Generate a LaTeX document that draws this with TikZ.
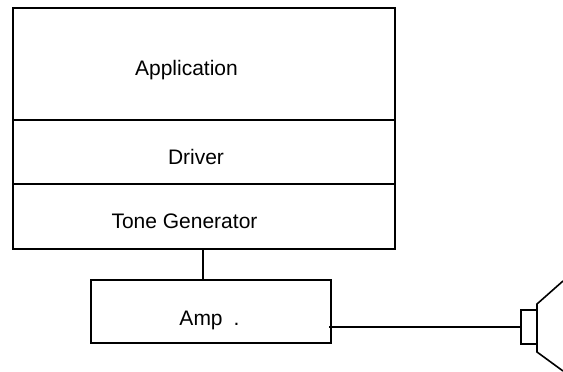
\documentclass[tikz,border=0pt]{standalone}
\usepackage{fontspec}
\setmainfont{Liberation Sans}
\usetikzlibrary{positioning}

\tikzset{
  layer/.style={draw, line width=1.6pt, minimum width=382pt, inner sep=0pt, outer sep=0pt},
  txt/.style={inner sep=0pt, font=\fontsize{21}{24}\selectfont},
  wire/.style={line width=1.6pt}
}

\begin{document}
\begin{tikzpicture}[x=1pt,y=-1pt]
  \useasboundingbox (0,0) rectangle (563,372);

  \node [layer, minimum height=112pt] (app) at (204,64) {};
  \node [layer, minimum height=64pt, below=0pt of app] (drv) {};
  \node [layer, minimum height=65pt, below=0pt of drv] (tone) {};
  \node [layer, minimum width=240pt, minimum height=63pt] (amp) at (211,311.5) {};
  \node [layer, minimum width=16pt, minimum height=34pt] (spk) at (529,327) {};

  \node [txt] (appt) at (186.5,70) {Application};
  \node [txt] (drvt) at (196,157) {Driver};
  \node [txt] (tonet) at (184.5,221) {Tone Generator};
  \node [txt] (ampt) at (209.5,320) {Amp\hspace{11pt}.};

  \coordinate (h1) at (537,304);
  \coordinate (h2) at (563,281);
  \coordinate (h3) at (537,352);
  \coordinate (h4) at (563,371);

  \draw [wire] ([xshift=-1pt]tone.south) -- ([xshift=-1pt]tone.south |- amp.north);
  \draw [wire] ([xshift=-2pt]spk.west -| amp.east) -- (spk.west);
  \draw [wire] (h2) -- (h1) -- (h3) -- (h4);
\end{tikzpicture}
\end{document}
